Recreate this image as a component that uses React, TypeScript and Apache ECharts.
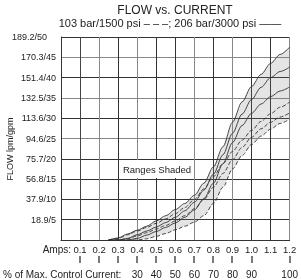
import React, { useEffect, useRef } from 'react';
import * as echarts from 'echarts';

// Current (amps) sample points shared by every curve
const amps = [0.25, 0.3, 0.35, 0.4, 0.45, 0.5, 0.55, 0.6, 0.65, 0.7, 0.75, 0.8, 0.85, 0.9, 0.95, 1.0, 1.05, 1.1, 1.15, 1.2];

// 206 bar / 3000 psi (solid) – flow in gpm
const solidHigh = [0, 0.5, 1.5, 2.4, 3.4, 4.7, 6.0, 7.5, 9.0, 11.0, 14.0, 18.0, 23.0, 29.0, 34.0, 37.8, 40.8, 43.5, 45.7, 47.5];
const solidMid = [0, 0, 0.4, 1.3, 2.2, 3.2, 4.3, 5.6, 7.2, 9.3, 12.3, 16.2, 21.0, 26.3, 31.0, 34.6, 37.6, 40.0, 41.5, 42.6];
const solidLow = [0, 0, 0, 0.4, 1.2, 2.1, 3.1, 4.2, 5.6, 7.4, 10.2, 14.0, 18.8, 24.0, 28.2, 31.2, 33.5, 35.3, 36.7, 37.7];

// 103 bar / 1500 psi (dashed) – flow in gpm
const dashHigh = [0, 0.4, 1.3, 2.2, 3.1, 4.1, 5.2, 6.5, 8.0, 10.0, 12.6, 15.6, 18.8, 21.8, 24.6, 27.0, 29.2, 31.1, 32.7, 34.0];
const dashMid = [0, 0, 0.3, 1.0, 1.8, 2.7, 3.6, 4.7, 6.0, 7.7, 10.0, 13.0, 16.4, 19.8, 22.8, 25.3, 27.4, 29.0, 30.3, 31.3];
const dashLow = [0, 0, 0, 0, 0.3, 0.9, 1.6, 2.5, 3.4, 4.4, 6.0, 9.0, 13.0, 17.5, 20.8, 23.5, 25.6, 27.3, 28.7, 29.8];

// Tick labels
const ampLabels = ['0.1', '0.2', '0.3', '0.4', '0.5', '0.6', '0.7', '0.8', '0.9', '1.0', '1.1', '1.2'];
const pctLabels = ['', '', '', '30', '40', '50', '60', '70', '80', '90', '', '100'];
const pctTickMarks = [true, true, true, true, true, true, true, true, true, true, false, true];
const lpmLabels = ['18.9', '37.9', '56.8', '75.7', '94.6', '113.6', '132.5', '151.4', '170.3', '189.2'];

const FONT = '"Liberation Sans", Arial, sans-serif';
const TXT = '#222';

export default function App() {
  const ref = useRef<HTMLDivElement>(null);

  useEffect(() => {
    if (!ref.current) return;
    const chart = echarts.init(ref.current, undefined, { renderer: 'svg' });

    const pairs = (vals: number[]) => amps.map((a, i) => [a, vals[i]]);
    const markAmps = ampLabels.filter((_, i) => pctTickMarks[i]).map(Number);

    const lineSeries = (name: string, vals: number[], dashed: boolean) => ({
      name,
      type: 'line',
      data: pairs(vals),
      symbol: 'none',
      smooth: 0.3,
      smoothMonotone: 'x',
      lineStyle: { color: '#333', width: 0.9, type: dashed ? [4, 2] : 'solid' },
      z: 3,
    });

    const vColors = ['#333', '#444', '#888', '#333', '#888', '#333', '#333', '#888', '#333', '#888', '#333', '#333', '#888'];
    const hColors = ['#555', '#333', '#333', '#333', '#333', '#888', '#333', '#888', '#333', '#888', '#333'];

    const textStyle = (text: string, fontSize: number, align: string) => ({
      text,
      fontSize,
      fontFamily: FONT,
      fill: TXT,
      align,
      verticalAlign: 'middle',
      textAlign: align,
      textVerticalAlign: 'middle',
    });

    chart.setOption({
      animation: false,
      grid: { left: 61, right: 8, top: 37, bottom: 40, containLabel: false },
      xAxis: [
        {
          type: 'value',
          min: 0,
          max: 1.2,
          interval: 0.1,
          axisLine: { show: true, lineStyle: { color: '#333', width: 1 } },
          axisTick: { show: false },
          splitLine: { show: true, lineStyle: { color: vColors, width: 1 } },
          axisLabel: {
            margin: 4,
            fontSize: 9.5,
            fontFamily: FONT,
            color: TXT,
            showMinLabel: true,
            showMaxLabel: true,
            formatter: (v: number) => {
              const i = Math.round(v * 10);
              return i === 0 ? '' : ampLabels[i - 1] || '';
            },
          },
        },
        {
          type: 'value',
          min: 0,
          max: 1.2,
          interval: 0.1,
          position: 'bottom',
          offset: 27,
          axisLine: { show: false },
          splitLine: { show: false },
          axisTick: { show: false },
          axisLabel: {
            margin: 2,
            fontSize: 10,
            fontFamily: FONT,
            color: TXT,
            showMinLabel: true,
            showMaxLabel: true,
            formatter: (v: number) => {
              const i = Math.round(v * 10);
              return i === 0 ? '' : pctLabels[i - 1] || '';
            },
          },
        },
      ],
      yAxis: {
        type: 'value',
        min: 0,
        max: 50,
        interval: 5,
        axisLine: { show: true, lineStyle: { color: '#333', width: 1 } },
        axisTick: { show: false },
        splitLine: { show: true, lineStyle: { color: hColors, width: 1 } },
        axisLabel: {
          margin: 5,
          fontSize: 9,
          fontFamily: FONT,
          color: TXT,
          showMaxLabel: true,
          formatter: (v: number) => {
            const i = Math.round(v / 5);
            if (i === 0) return '';
            const s = lpmLabels[i - 1] + '/' + v;
            return i === 10 ? '{top|' + s + '}' : s;
          },
          rich: {
            top: { fontSize: 9, fontFamily: FONT, color: TXT, padding: [0, 9, 0, 0] },
          },
        },
      },
      series: [
        {
          name: 'shadedRange',
          type: 'custom',
          coordinateSystem: 'cartesian2d',
          data: [[0, 0]],
          silent: true,
          clip: true,
          z: 1,
          renderItem: (_params: any, api: any) => {
            const upper = amps.map((a, i) => api.coord([a, solidHigh[i]]));
            const lower = amps.map((a, i) => api.coord([a, dashLow[i]])).reverse();
            return {
              type: 'polygon',
              shape: { points: upper.concat(lower) },
              style: { fill: 'rgba(120,120,120,0.2)', stroke: 'none' },
            };
          },
        },
        lineSeries('206 high', solidHigh, false),
        lineSeries('206 mid', solidMid, false),
        lineSeries('206 low', solidLow, false),
        lineSeries('103 high', dashHigh, true),
        lineSeries('103 mid', dashMid, true),
        lineSeries('103 low', dashLow, true),
      ],
      graphic: [
        { id: 'title', type: 'text', x: 175, y: 10, style: textStyle('FLOW vs. CURRENT', 12, 'center') },
        { id: 'sub', type: 'text', x: 170, y: 23, style: textStyle('103 bar/1500 psi – – –; 206 bar/3000 psi ——', 11, 'center') },
        { id: 'yname', type: 'text', x: 10, y: 149, rotation: Math.PI / 2, style: textStyle('FLOW lpm/gpm', 9, 'center') },
        { id: 'amps', type: 'text', x: 71, y: 249, style: textStyle('Amps:', 10, 'right') },
        { id: 'pct', type: 'text', x: 3, y: 274, style: textStyle('% of Max. Control Current:', 10, 'left') },
        { id: 'box', type: 'rect', shape: { x: 121, y: 160, width: 73, height: 18 }, style: { fill: '#fff' }, z: 10 },
        { id: 'ranges', type: 'text', x: 157, y: 169, z: 11, style: textStyle('Ranges Shaded', 9.5, 'center') },
      ],
    });

    // Little "|" marks between the Amps row and the % row, placed with the x axis scale
    const marks = markAmps.map((a, k) => {
      const px = Math.round(chart.convertToPixel({ xAxisIndex: 0 }, a) as number);
      return {
        id: 'mark' + k,
        type: 'rect',
        shape: { x: px - 0.6, y: 256, width: 1.2, height: 7 },
        style: { fill: '#222' },
        z: 10,
      };
    });
    chart.setOption({ graphic: marks });

    return () => chart.dispose();
  }, []);

  return <div ref={ref} style={{ position: 'fixed', left: 0, top: 0, width: 301, height: 280 }} />;
}
